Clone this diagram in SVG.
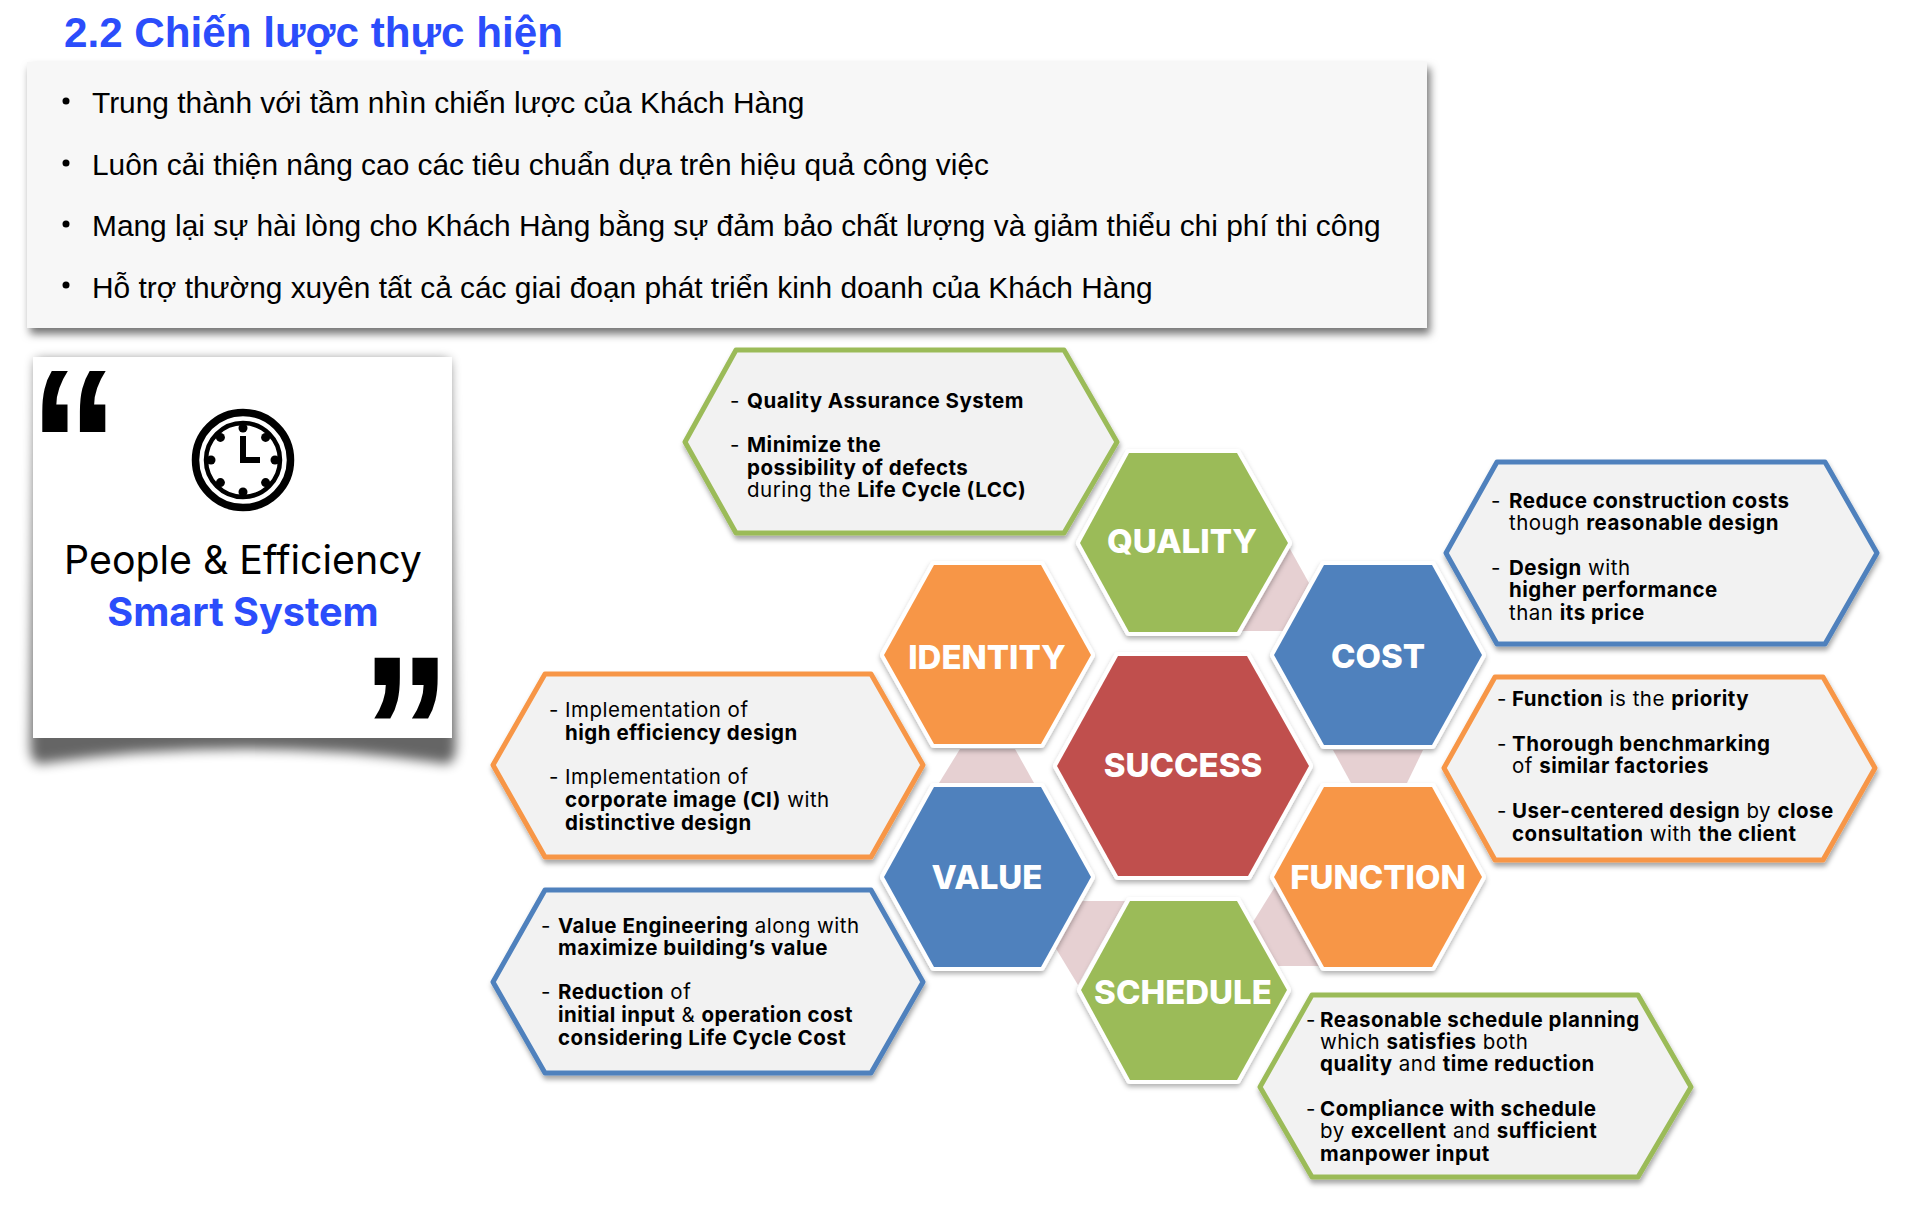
<svg xmlns="http://www.w3.org/2000/svg" width="1921" height="1206" viewBox="0 0 1921 1206">
<defs>
<style>
text{font-family:"Inter","Liberation Sans",sans-serif;fill:#000}
.v{font-family:"Liberation Sans","Noto Sans",sans-serif}
.h{font-size:42.2px;font-weight:700;fill:#2b4dfb}
.bl{font-size:29.88px}
.hx{stroke:#fff;stroke-width:8;stroke-linejoin:round;paint-order:stroke;filter:url(#hs)}
.ht{font-size:33px;font-weight:800;fill:#fff;text-anchor:middle}
.co{fill:#f2f2f2;stroke-width:5;stroke-linejoin:round;filter:url(#cs)}
.ct{font-size:20.5px;font-weight:400;letter-spacing:.5px}
.ct tspan.b{font-weight:700}
.q{font-family:"Liberation Sans",sans-serif;font-weight:700;font-size:250px}
.tick{fill:#000}
</style>
<filter id="hs" x="-10%" y="-10%" width="120%" height="125%"><feDropShadow dx="0" dy="3" stdDeviation="2.5" flood-color="#000" flood-opacity=".3"/></filter>
<filter id="cs" x="-5%" y="-5%" width="110%" height="115%"><feDropShadow dx="1" dy="4" stdDeviation="2.5" flood-color="#000" flood-opacity=".35"/></filter>
<filter id="ps" x="-5%" y="-10%" width="110%" height="130%"><feDropShadow dx="3" dy="6" stdDeviation="4" flood-color="#000" flood-opacity=".55"/></filter>
<filter id="b" x="-10%" y="-10%" width="120%" height="120%"><feGaussianBlur stdDeviation="6"/></filter>
</defs>
<rect width="1921" height="1206" fill="#fff"/>

<g id="title"><text class="h v" x="64" y="47">2.2 Chiến lược thực hiện</text></g>

<g id="panel">
<rect x="27" y="62" width="1400" height="266" fill="#f7f7f7" filter="url(#ps)"/>
<g class="bl">
<circle cx="66" cy="101" r="3.5"/><text class="bl v" x="92" y="113">Trung thành với tầm nhìn chiến lược của Khách Hàng</text>
<circle cx="66" cy="163" r="3.5"/><text class="bl v" x="92" y="175">Luôn cải thiện nâng cao các tiêu chuẩn dựa trên hiệu quả công việc</text>
<circle cx="66" cy="224" r="3.5"/><text class="bl v" x="92" y="236">Mang lại sự hài lòng cho Khách Hàng bằng sự đảm bảo chất lượng và giảm thiểu chi phí thi công</text>
<circle cx="66" cy="285" r="3.5"/><text class="bl v" x="92" y="298">Hỗ trợ thường xuyên tất cả các giai đoạn phát triển kinh doanh của Khách Hàng</text>
</g>
</g>

<g id="card">
<path d="M36 360H449L456 745Q456 768 440 763Q243 735 46 763Q30 768 30 745Z" fill="#000" opacity=".6" filter="url(#b)"/>
<rect x="33" y="357" width="419" height="381" fill="#fff"/>
<text class="q" transform="translate(29 519) scale(.72 .86)">“</text>
<text class="q" transform="translate(361 806) scale(.72 .86)">”</text>
<g id="clock">
<circle cx="243" cy="460" r="47.5" fill="none" stroke="#000" stroke-width="7.5"/>
<circle cx="243" cy="460" r="37" fill="none" stroke="#000" stroke-width="4.5"/>
<g class="tick"><circle cx="243" cy="428" r="4.500"/><circle cx="243" cy="492" r="4.500"/><circle cx="211" cy="460" r="4.500"/><circle cx="275" cy="460" r="4.500"/><circle cx="220.400" cy="437.400" r="4.500"/><circle cx="265.600" cy="437.400" r="4.500"/><circle cx="220.400" cy="482.600" r="4.500"/><circle cx="265.600" cy="482.600" r="4.500"/></g>
<path d="M243 436V460H260" fill="none" stroke="#000" stroke-width="6"/>
</g>
<text x="243" y="574" text-anchor="middle" font-size="39.3">People &amp; Efficiency</text>
<text x="243" y="626" text-anchor="middle" font-size="39.6" font-weight="700" style="fill:#2b4dfb">Smart System</text>
</g>

<g id="connectors" fill="#e6d0d2">
<polygon points="1285,540 1309,583 1283,631 1240,631"/>
<polygon points="960,749 1015,749 1034,783 939,783"/>
<polygon points="1333,750 1423,750 1407,783 1351,783"/>
<polygon points="1075,901 1125,901 1078,985 1055,947"/>
<polygon points="1276,885 1253,922 1278,966 1322,966"/>
</g>

<g id="hex-quality"><polygon class="hx" fill="#9bbb59" points="1080,543 1129,453 1237,453 1288,543 1237,632 1129,632"/><text class="ht" x="1182" y="553">QUALITY</text></g>
<g id="hex-identity"><polygon class="hx" fill="#f79646" points="884,655 934,565 1041,565 1091,655 1041,744 934,744"/><text class="ht" x="987" y="669">IDENTITY</text></g>
<g id="hex-cost"><polygon class="hx" fill="#4f81bd" points="1274,655 1324,565 1432,565 1482,655 1432,745 1324,745"/><text class="ht" x="1378" y="668">COST</text></g>
<g id="hex-success"><polygon class="hx" fill="#c0504d" points="1057,766 1118,656 1247,656 1309,766 1248,876 1118,876"/><text class="ht" x="1183" y="777">SUCCESS</text></g>
<g id="hex-value"><polygon class="hx" fill="#4f81bd" points="884,877 934,787 1041,787 1091,877 1041,967 934,967"/><text class="ht" x="987" y="889">VALUE</text></g>
<g id="hex-function"><polygon class="hx" fill="#f79646" points="1274,877 1324,787 1432,787 1482,877 1432,967 1324,967"/><text class="ht" x="1378" y="889">FUNCTION</text></g>
<g id="hex-schedule"><polygon class="hx" fill="#9bbb59" points="1081,990 1130,901 1237,901 1287,990 1237,1080 1130,1080"/><text class="ht" x="1183" y="1004">SCHEDULE</text></g>

<g id="callout-quality"><polygon class="co" stroke="#9bbb59" points="685,442 736,350 1064,350 1117,442 1064,533 736,533"/>
<text class="ct"><tspan x="730" y="408">-</tspan><tspan class="b" x="747" y="408">Quality Assurance System</tspan><tspan x="730" y="452">-</tspan><tspan class="b" x="747" y="452">Minimize the</tspan><tspan class="b" x="747" y="475">possibility of defects</tspan><tspan x="747" y="497">during the </tspan><tspan class="b">Life Cycle (LCC)</tspan></text></g>

<g id="callout-cost"><polygon class="co" stroke="#4f81bd" points="1446,553 1497,462 1825,462 1877,553 1825,644 1497,644"/>
<text class="ct"><tspan x="1491" y="508">-</tspan><tspan class="b" x="1509" y="508">Reduce construction costs</tspan><tspan x="1509" y="530">though </tspan><tspan class="b">reasonable design</tspan><tspan x="1491" y="575">-</tspan><tspan class="b" x="1509" y="575">Design</tspan><tspan> with</tspan><tspan class="b" x="1509" y="597">higher performance</tspan><tspan x="1509" y="620">than </tspan><tspan class="b">its price</tspan></text></g>

<g id="callout-function"><polygon class="co" stroke="#f79646" points="1444,768 1495,677 1823,677 1875,768 1823,860 1495,860"/>
<text class="ct"><tspan x="1497" y="706">-</tspan><tspan class="b" x="1512" y="706">Function</tspan><tspan> is the </tspan><tspan class="b">priority</tspan><tspan x="1497" y="751">-</tspan><tspan class="b" x="1512" y="751">Thorough benchmarking</tspan><tspan x="1512" y="773">of </tspan><tspan class="b">similar factories</tspan><tspan x="1497" y="818">-</tspan><tspan class="b" x="1512" y="818">User-centered design</tspan><tspan> by </tspan><tspan class="b">close</tspan><tspan class="b" x="1512" y="841">consultation</tspan><tspan> with </tspan><tspan class="b">the client</tspan></text></g>

<g id="callout-identity"><polygon class="co" stroke="#f79646" points="493,765 545,674 871,674 923,765 871,857 545,857"/>
<text class="ct"><tspan x="549" y="717">-</tspan><tspan x="565" y="717">Implementation of</tspan><tspan class="b" x="565" y="740">high efficiency design</tspan><tspan x="549" y="784">-</tspan><tspan x="565" y="784">Implementation of</tspan><tspan class="b" x="565" y="807">corporate image (CI)</tspan><tspan> with</tspan><tspan class="b" x="565" y="830">distinctive design</tspan></text></g>

<g id="callout-value"><polygon class="co" stroke="#4f81bd" points="493,982 545,890 871,890 923,982 871,1073 545,1073"/>
<text class="ct"><tspan x="541" y="933">-</tspan><tspan class="b" x="558" y="933">Value Engineering</tspan><tspan> along with</tspan><tspan class="b" x="558" y="955">maximize building’s value</tspan><tspan x="541" y="999">-</tspan><tspan class="b" x="558" y="999">Reduction</tspan><tspan> of</tspan><tspan class="b" x="558" y="1022">initial input</tspan><tspan> &amp; </tspan><tspan class="b">operation cost</tspan><tspan class="b" x="558" y="1045">considering Life Cycle Cost</tspan></text></g>

<g id="callout-schedule"><polygon class="co" stroke="#9bbb59" points="1260,1087 1312,995 1638,995 1691,1087 1638,1177 1312,1177"/>
<text class="ct"><tspan x="1306" y="1027">-</tspan><tspan class="b" x="1320" y="1027">Reasonable schedule planning</tspan><tspan x="1320" y="1049">which </tspan><tspan class="b">satisfies</tspan><tspan> both</tspan><tspan class="b" x="1320" y="1071">quality</tspan><tspan> and </tspan><tspan class="b">time reduction</tspan><tspan x="1306" y="1116">-</tspan><tspan class="b" x="1320" y="1116">Compliance with schedule</tspan><tspan x="1320" y="1138">by </tspan><tspan class="b">excellent</tspan><tspan> and </tspan><tspan class="b">sufficient</tspan><tspan class="b" x="1320" y="1161">manpower input</tspan></text></g>
</svg>
